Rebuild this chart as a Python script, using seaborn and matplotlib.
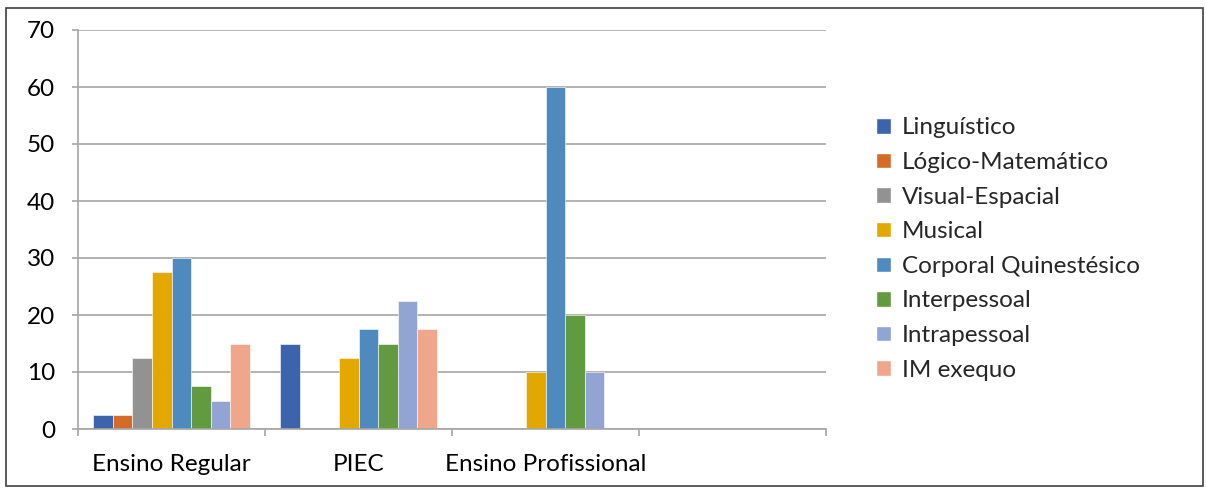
import matplotlib
matplotlib.use("Agg")
import matplotlib.pyplot as plt
import seaborn as sns
import pandas as pd
from matplotlib.patches import Rectangle, Patch

categories = ["Ensino Regular", "PIEC", "Ensino Profissional", ""]
series = ["Linguístico", "Lógico-Matemático", "Visual-Espacial", "Musical",
          "Corporal Quinestésico", "Interpessoal", "Intrapessoal", "IM exequo"]
linguistico = [2.5, 15, 0, 0]
logico = [2.5, 0, 0, 0]
visual = [12.5, 0, 0, 0]
musical = [27.5, 12.5, 10, 0]
corporal = [30, 17.5, 60, 0]
interpessoal = [7.5, 15, 20, 0]
intrapessoal = [5, 22.5, 10, 0]
exequo = [15, 17.5, 0, 0]
yticks = [0, 10, 20, 30, 40, 50, 60, 70]

colors = ["#3B64AD", "#D46B29", "#929292", "#E2A800", "#4F8ABE",
          "#629A3F", "#91A4D4", "#F0A68A"]

values = [linguistico, logico, visual, musical, corporal, interpessoal, intrapessoal, exequo]
rows = []
for s, vals in zip(series, values):
    for c, v in zip(categories, vals):
        rows.append({"cat": c, "serie": s, "val": v})
df = pd.DataFrame(rows)

sns.set_theme(style="white")
plt.rcParams["font.family"] = ["Lato", "DejaVu Sans"]

fig = plt.figure(figsize=(12.06, 4.88), dpi=100)
ax = fig.add_axes([78/1206, 1-429/488, (826-78)/1206, (429-30)/488])

sns.barplot(data=df, x="cat", y="val", hue="serie", order=categories,
            hue_order=series, palette=colors, width=0.84, ax=ax,
            saturation=1, legend=False, errorbar=None, linewidth=0.4, edgecolor="white")

ax.set_ylim(0, 70)
ax.set_xlim(-0.5, 3.5)
ax.set_yticks(yticks)
ax.set_xlabel("")
ax.set_ylabel("")
grid_c = "#A6A6A6"
ax.yaxis.grid(True, color=grid_c, linewidth=1.2)
ax.set_axisbelow(True)
for side in ["top", "right"]:
    ax.spines[side].set_visible(False)
ax.spines["left"].set_color(grid_c)
ax.spines["bottom"].set_color(grid_c)
ax.spines["left"].set_linewidth(1.2)
ax.spines["bottom"].set_linewidth(1.2)

ax.set_xticks([0, 1, 2, 3])
ax.set_xticklabels(categories)
ax.set_xticks([-0.5, 0.5, 1.5, 2.5, 3.5], minor=True)
ax.tick_params(axis="x", which="major", length=0, pad=18, labelsize=17.5, labelcolor="#000000")
ax.tick_params(axis="x", which="minor", length=5, width=1.2, color=grid_c, bottom=True)
ax.tick_params(axis="y", length=4.3, width=1.2, color=grid_c, pad=12, labelsize=17.5,
               labelcolor="#000000", left=True)

handles = [Patch(facecolor=c, label=s) for c, s in zip(colors, series)]
fig.legend(handles=handles, loc="center left", bbox_to_anchor=(876/1206, 1-249/488),
           frameon=False, fontsize=17.5, handlelength=0.6, handleheight=0.6,
           handletextpad=0.45, labelspacing=0.56, borderaxespad=0, borderpad=0)

fig.patches.append(Rectangle((6/1206, 2/488), 1197/1206, 478/488, transform=fig.transFigure,
                             fill=False, edgecolor="#404040", linewidth=1.2))

fig.savefig("out.png", dpi=100)
